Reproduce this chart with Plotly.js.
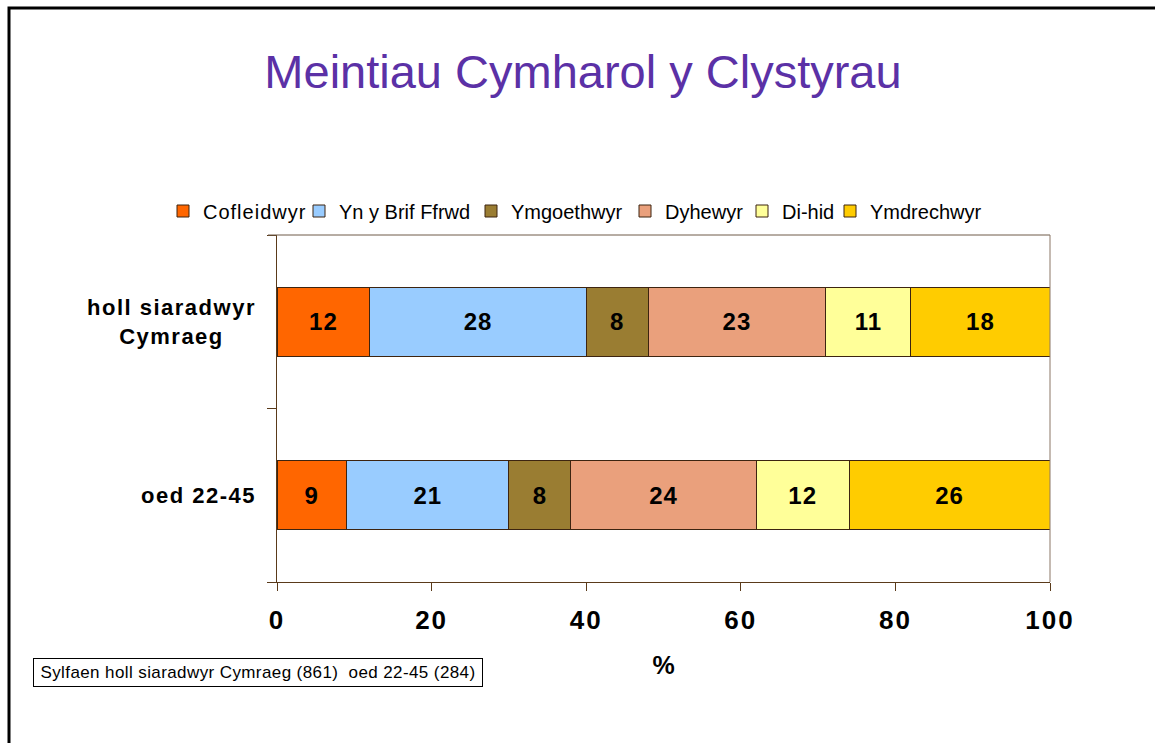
<!DOCTYPE html>
<html>
<head>
<meta charset="utf-8">
<script src="https://cdn.plot.ly/plotly-3.0.1.min.js"></script>
<style>
html,body{margin:0;padding:0;background:#fff;}
#chart{width:1155px;height:743px;}
.legendtext{letter-spacing:1px;}
.xtick text{letter-spacing:2px;}
text.bartext{letter-spacing:1px;}
</style>
</head>
<body>
<div id="chart"></div>
<script>
var categories = ["holl siaradwyr Cymraeg", "oed 22-45"];
var categoryLabels = ["holl siaradwyr<br>Cymraeg", "oed 22-45"];
var seriesNames = ["Cofleidwyr", "Yn y Brif Ffrwd", "Ymgoethwyr", "Dyhewyr", "Di-hid", "Ymdrechwyr"];
var cofleidwyr = [12, 9];
var ynYBrifFfrwd = [28, 21];
var ymgoethwyr = [8, 8];
var dyhewyr = [23, 24];
var diHid = [11, 12];
var ymdrechwyr = [18, 26];
var xTicks = [0, 20, 40, 60, 80, 100];
var titleText = "Meintiau Cymharol y Clystyrau";
var xTitle = "%";
var noteText = "Sylfaen holl siaradwyr Cymraeg (861)  oed 22-45 (284)";

var seriesValues = [cofleidwyr, ynYBrifFfrwd, ymgoethwyr, dyhewyr, diHid, ymdrechwyr];
var colors = ["#FF6600", "#99CCFF", "#9A7D32", "#EAA07C", "#FFFF99", "#FFCC00"];
var FONT = "Liberation Sans, Arial, sans-serif";

// plot area in pixels
var PL = 277, PR = 1050, PT = 235, PB = 582;
var PW = PR - PL, PH = PB - PT;
function px(x){ return (x - PL) / PW; }
function py(y){ return (PB - y) / PH; }

var legendNames = ["legend", "legend2", "legend3", "legend4", "legend5", "legend6"];
var legendLeft = [163, 299, 471, 625, 742, 830];

var traces = seriesNames.map(function(name, i){
  return {
    type: "bar",
    orientation: "h",
    name: name,
    legend: legendNames[i],
    y: categories,
    x: seriesValues[i],
    width: 0.4,
    text: seriesValues[i].map(String),
    texttemplate: "%{text}",
    textposition: "inside",
    insidetextanchor: "middle",
    constraintext: "none",
    textfont: {family: FONT, size: 24, color: "#000", weight: "bold"},
    marker: {color: colors[i], line: {color: "#3d2410", width: 1}},
    hoverinfo: "x+name"
  };
});

function spaced(txt, sp){
  return txt.split("<br>").map(function(t){
    return '<span style="letter-spacing:' + sp + 'px">' + t + '</span>';
  }).join("<br>");
}

var annotations = categories.map(function(c, i){
  return {
    xref: "paper", yref: "y", x: px(258), y: c,
    xanchor: "right", yanchor: "middle", align: "center",
    text: "<b>" + spaced(categoryLabels[i], 1.5) + "</b>",
    showarrow: false,
    font: {family: FONT, size: 22, color: "#000"}
  };
});
annotations.push({
  xref: "paper", yref: "paper",
  x: px(33), y: py(672),
  xanchor: "left", yanchor: "middle",
  width: 440, align: "center",
  text: spaced(noteText, 0.4), showarrow: false,
  font: {family: FONT, size: 17, color: "#000"},
  bordercolor: "#000", borderwidth: 1, borderpad: 4, bgcolor: "#fff"
});

var layout = {
  width: 1155, height: 743,
  paper_bgcolor: "#fff", plot_bgcolor: "#fff",
  margin: {l: PL, r: 1155 - PR, t: PT, b: 743 - PB, autoexpand: false},
  barmode: "stack",
  showlegend: true,
  font: {family: FONT, color: "#000"},
  title: {
    text: titleText,
    font: {family: FONT, size: 47, color: "#5B31A6"},
    x: 583 / 1155, xanchor: "center", xref: "container",
    y: 1 - 72 / 743, yanchor: "middle", yref: "container"
  },
  xaxis: {
    range: [0, 100],
    tickvals: xTicks,
    ticktext: xTicks.map(String),
    ticks: "outside", ticklen: 8, tickcolor: "#5a3a1a", tickwidth: 1,
    ticklabelstandoff: 7,
    showline: true, linecolor: "#5a3a1a", linewidth: 1,
    showgrid: false, zeroline: false,
    tickfont: {family: FONT, size: 26, color: "#000", weight: "bold"},
    title: {text: xTitle, font: {family: FONT, size: 25, color: "#000", weight: "bold"}, standoff: 22},
    fixedrange: true
  },
  yaxis: {
    type: "category",
    categoryorder: "array",
    categoryarray: categories.slice().reverse(),
    range: [-0.5, 1.5],
    tickson: "boundaries",
    ticks: "outside", ticklen: 9, tickcolor: "#5a3a1a", tickwidth: 1,
    showticklabels: false,
    showline: true, linecolor: "#5a3a1a", linewidth: 1,
    showgrid: false, zeroline: false,
    fixedrange: true
  },
  annotations: annotations,
  shapes: [
    {type: "line", xref: "paper", yref: "paper", x0: px(268), x1: 1, y0: 1, y1: 1, line: {color: "#6e5a48", width: 1}},
    {type: "line", xref: "paper", yref: "paper", x0: 1, x1: 1, y0: 0, y1: 1, line: {color: "#8b7766", width: 1}},
    {type: "rect", xref: "paper", yref: "paper",
     x0: px(9), x1: px(1170),
     y0: py(760), y1: py(8),
     line: {color: "#000", width: 3}, fillcolor: "rgba(0,0,0,0)", layer: "above"}
  ]
};

legendNames.forEach(function(ln, i){
  layout[ln] = {
    orientation: "h",
    xref: "paper", yref: "paper",
    x: px(legendLeft[i]), xanchor: "left",
    y: py(211), yanchor: "middle",
    font: {family: FONT, size: 20, color: "#000"},
    itemwidth: 30,
    bgcolor: "rgba(0,0,0,0)"
  };
});

Plotly.newPlot("chart", traces, layout, {displayModeBar: false, staticPlot: true});
</script>
</body>
</html>
